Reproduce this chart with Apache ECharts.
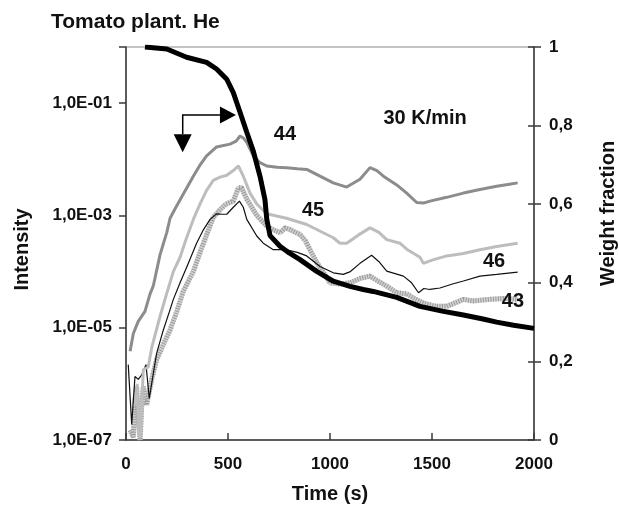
<!DOCTYPE html>
<html>
<head>
<meta charset="utf-8">
<script src="https://cdn.jsdelivr.net/npm/echarts@6/dist/echarts.min.js"></script>
<style>
  html, body { margin: 0; padding: 0; background: #fff; }
  #chart { width: 619px; height: 506px; }
</style>
</head>
<body>
<div id="chart"></div>
<script>
// Tick labels
const timeTicks = [0, 500, 1000, 1500, 2000];
const intensityTickValues = [1e-7, 1e-5, 1e-3, 1e-1];
const intensityTickLabels = ['1,0E-07', '1,0E-05', '1,0E-03', '1,0E-01'];
const weightTickLabels = ['0', '0,2', '0,4', '0,6', '0,8', '1'];

// m/z 44
const time44 = [20, 36, 60, 93, 118, 134, 167, 200, 216, 240, 281, 330, 360, 395, 444, 510, 540, 559, 575, 592, 624, 657, 690, 740, 787, 840, 886, 951, 1016, 1082, 1147, 1196, 1230, 1262, 1327, 1376, 1425, 1458, 1490, 1572, 1654, 1735, 1817, 1880, 1920];
const int44 = [3.8e-6, 7.9e-6, 1.3e-5, 1.95e-5, 4.0e-5, 5.6e-5, 2.0e-4, 5.0e-4, 8.9e-4, 1.3e-3, 2.4e-3, 5.0e-3, 7.6e-3, 1.15e-2, 1.66e-2, 1.86e-2, 2.1e-2, 2.6e-2, 2.4e-2, 2.0e-2, 1.15e-2, 8.7e-3, 7.6e-3, 7.2e-3, 7.1e-3, 6.8e-3, 6.6e-3, 5.0e-3, 3.8e-3, 3.2e-3, 4.4e-3, 7.1e-3, 6.3e-3, 5.0e-3, 3.5e-3, 2.5e-3, 1.7e-3, 1.66e-3, 1.8e-3, 2.1e-3, 2.5e-3, 2.9e-3, 3.3e-3, 3.6e-3, 3.8e-3];

// m/z 45
const time45 = [45, 55, 62, 70, 85, 109, 126, 167, 199, 232, 265, 297, 330, 363, 395, 428, 461, 494, 526, 551, 575, 608, 641, 690, 787, 886, 1016, 1049, 1082, 1140, 1196, 1240, 1278, 1343, 1376, 1441, 1458, 1500, 1572, 1654, 1735, 1817, 1920];
const int45 = [4.0e-7, 1.0e-6, 1.26e-7, 1.12e-7, 1.8e-6, 2.0e-6, 4.4e-6, 1.6e-5, 4.0e-5, 1.0e-4, 1.8e-4, 4.0e-4, 8.5e-4, 1.6e-3, 2.8e-3, 4.2e-3, 4.8e-3, 5.2e-3, 6.3e-3, 7.6e-3, 5.0e-3, 2.5e-3, 1.6e-3, 1.07e-3, 8.9e-4, 6.9e-4, 4.0e-4, 3.2e-4, 3.2e-4, 4.5e-4, 6.0e-4, 5.0e-4, 3.7e-4, 3.2e-4, 2.5e-4, 1.8e-4, 1.4e-4, 1.6e-4, 1.9e-4, 2.1e-4, 2.45e-4, 2.8e-4, 3.2e-4];

// m/z 46
const time46 = [11, 28, 44, 60, 77, 98, 114, 126, 150, 183, 216, 232, 265, 300, 346, 380, 412, 444, 470, 494, 526, 556, 575, 592, 641, 673, 722, 787, 840, 886, 951, 1016, 1065, 1100, 1147, 1204, 1240, 1278, 1360, 1400, 1434, 1460, 1490, 1539, 1600, 1654, 1735, 1817, 1920];
const int46 = [2.2e-6, 1.9e-7, 1.35e-6, 1.2e-6, 1.45e-6, 2.2e-6, 5.5e-7, 1.02e-6, 3.5e-6, 9.1e-6, 2.1e-5, 3.2e-5, 6.3e-5, 1.26e-4, 3.2e-4, 5.6e-4, 8.5e-4, 1.07e-3, 1.05e-3, 1.05e-3, 1.4e-3, 1.8e-3, 1.4e-3, 8.5e-4, 4.3e-4, 3.2e-4, 2.45e-4, 2.45e-4, 2.2e-4, 1.9e-4, 1.23e-4, 9.5e-5, 8.9e-5, 1.0e-4, 1.4e-4, 1.95e-4, 1.5e-4, 1.02e-4, 8.3e-5, 6.3e-5, 4.2e-5, 5.0e-5, 4.8e-5, 5.1e-5, 6.0e-5, 6.8e-5, 8.3e-5, 8.9e-5, 9.8e-5];

// m/z 43
const time43 = [20, 36, 44, 52, 60, 69, 77, 85, 101, 126, 150, 183, 216, 250, 281, 330, 363, 395, 428, 461, 490, 526, 551, 567, 592, 641, 690, 720, 755, 780, 804, 830, 853, 880, 902, 935, 965, 1000, 1050, 1098, 1150, 1196, 1240, 1278, 1327, 1376, 1420, 1458, 1520, 1572, 1654, 1700, 1784, 1850, 1920];
const int43 = [1.5e-7, 1.12e-7, 5.0e-7, 8.9e-7, 2.5e-7, 1.0e-7, 4.0e-7, 8.9e-7, 4.2e-7, 1.2e-6, 2.7e-6, 5.0e-6, 9.1e-6, 2.0e-5, 4.5e-5, 1.0e-4, 2.2e-4, 4.5e-4, 9.3e-4, 1.26e-3, 1.6e-3, 1.8e-3, 3.1e-3, 3.1e-3, 1.95e-3, 1.0e-3, 6.5e-4, 5.6e-4, 4.9e-4, 6.0e-4, 5.6e-4, 5.0e-4, 4.6e-4, 3.5e-4, 2.45e-4, 1.45e-4, 1.0e-4, 6.3e-5, 6.0e-5, 6.3e-5, 7.6e-5, 8.3e-5, 6.6e-5, 5.5e-5, 4.2e-5, 4.0e-5, 3.2e-5, 2.75e-5, 2.4e-5, 2.4e-5, 3.2e-5, 3.0e-5, 3.2e-5, 3.3e-5, 3.2e-5];

// Weight fraction (TG curve)
const timeTG = [93, 200, 297, 395, 444, 494, 526, 559, 592, 624, 657, 681, 690, 706, 755, 800, 853, 935, 1016, 1098, 1163, 1212, 1327, 1441, 1550, 1654, 1750, 1817, 1900, 2000];
const weightTG = [1.0, 0.995, 0.974, 0.961, 0.944, 0.918, 0.884, 0.834, 0.783, 0.735, 0.671, 0.612, 0.562, 0.52, 0.493, 0.476, 0.459, 0.429, 0.404, 0.391, 0.383, 0.378, 0.363, 0.340, 0.328, 0.318, 0.308, 0.300, 0.292, 0.284];

// Curve annotations: [text, time, value, axis]
const curveLabels = [
  ['44', 779, 2.8e-2, 0],
  ['45', 917, 1.23e-3, 0],
  ['46', 1804, 1.5e-4, 0],
  ['43', 1897, 2.9e-5, 0],
  ['30 K/min', 1466, 5.4e-2, 0]
];
// Axis-reading arrows (in time / weight-fraction coordinates)
const arrowCorner = [278, 0.827];
const arrowRightTip = [539, 0.827];
const arrowDownTip = [278, 0.732];

const FONT = '"Liberation Sans", Arial, Helvetica, sans-serif';
const pairs = (xs, ys) => xs.map((x, i) => [x, ys[i]]);

const chart = echarts.init(document.getElementById('chart'), null, { renderer: 'canvas' });

const axisLineStyle = { color: '#3a3a3a', width: 1.5 };
const tickLabelStyle = { color: '#111', fontSize: 17, fontWeight: 'bold', fontFamily: FONT };
const nameStyle = { color: '#111', fontSize: 20, fontWeight: 'bold', fontFamily: FONT };

const option = {
  animation: false,
  backgroundColor: '#fff',
  title: {
    text: 'Tomato plant. He',
    left: 51, top: 12, padding: 0,
    textStyle: { color: '#111', fontSize: 21, fontWeight: 'bold', fontFamily: FONT }
  },
  grid: {
    left: 126, right: 85, top: 47, bottom: 66,
    show: true, borderColor: '#8a8a8a', borderWidth: 1, backgroundColor: 'transparent',
    containLabel: false, outerBoundsMode: 'none'
  },
  xAxis: {
    type: 'value', min: 0, max: 2000, interval: 500,
    name: 'Time (s)', nameLocation: 'middle', nameGap: 44,
    nameTextStyle: nameStyle,
    axisLine: { show: true, lineStyle: axisLineStyle },
    axisTick: { show: true, inside: true, length: 7, lineStyle: axisLineStyle },
    axisLabel: {
      ...tickLabelStyle, margin: 16,
      formatter: v => { const k = timeTicks.indexOf(v); return k >= 0 ? String(timeTicks[k]) : ''; }
    },
    splitLine: { show: false }
  },
  yAxis: [
    {
      type: 'log', logBase: 10, min: 1e-7, max: 1, interval: 2,
      position: 'left',
      name: 'Intensity', nameLocation: 'middle', nameGap: 94, nameRotate: 90,
      nameTextStyle: { ...nameStyle, padding: [0, 12, 0, 0] },
      axisLine: { show: true, lineStyle: axisLineStyle },
      axisTick: { show: true, inside: false, length: 7, lineStyle: axisLineStyle },
      axisLabel: {
        ...tickLabelStyle, margin: 14,
        formatter: v => {
          const k = intensityTickValues.findIndex(x => Math.abs(Math.log10(x) - Math.log10(v)) < 0.01);
          return k >= 0 ? intensityTickLabels[k] : '';
        }
      },
      splitLine: { show: false }
    },
    {
      type: 'value', min: 0, max: 1, interval: 0.2,
      position: 'right',
      name: 'Weight fraction', nameLocation: 'middle', nameGap: 64, nameRotate: 90,
      nameTextStyle: { ...nameStyle, padding: [0, 0, 0, 60] },
      axisLine: { show: true, lineStyle: axisLineStyle },
      axisTick: { show: true, inside: false, length: 7, lineStyle: axisLineStyle },
      axisLabel: {
        ...tickLabelStyle, margin: 15,
        formatter: v => weightTickLabels[Math.round(v / 0.2)] || ''
      },
      splitLine: { show: false }
    },
    {
      // inner half of the crossing ticks on the weight-fraction axis
      type: 'value', min: 0, max: 1, interval: 0.2,
      position: 'right',
      axisLine: { show: false },
      axisTick: { show: true, inside: true, length: 6, lineStyle: axisLineStyle },
      axisLabel: { show: false },
      splitLine: { show: false }
    }
  ],
  series: [
    {
      name: '43', type: 'line', yAxisIndex: 0, data: pairs(time43, int43),
      showSymbol: false, symbol: 'none', z: 2,
      lineStyle: { color: '#d2d2d2', width: 5 }
    },
    {
      name: '43 hatch', type: 'line', yAxisIndex: 0, data: pairs(time43, int43),
      showSymbol: false, symbol: 'none', z: 3,
      lineStyle: { color: '#9a9a9a', width: 5, type: [1, 1.5] }
    },
    {
      name: '46', type: 'line', yAxisIndex: 0, data: pairs(time46, int46),
      showSymbol: false, symbol: 'none', z: 4,
      lineStyle: { color: '#111', width: 1.2 }
    },
    {
      name: '45', type: 'line', yAxisIndex: 0, data: pairs(time45, int45),
      showSymbol: false, symbol: 'none', z: 5,
      lineStyle: { color: '#bdbdbd', width: 3 }
    },
    {
      name: '44', type: 'line', yAxisIndex: 0, data: pairs(time44, int44),
      showSymbol: false, symbol: 'none', z: 6,
      lineStyle: { color: '#8c8c8c', width: 3 }
    },
    {
      name: 'Weight fraction', type: 'line', yAxisIndex: 1, data: pairs(timeTG, weightTG),
      showSymbol: false, symbol: 'none', z: 7,
      lineStyle: { color: '#000', width: 5 }
    }
  ]
};

chart.setOption(option);

// Annotations positioned through the chart's own coordinate system
const toPx = (axis, pt) => chart.convertToPixel({ xAxisIndex: 0, yAxisIndex: axis }, pt);
const graphics = curveLabels.map(([text, t, v, axis]) => {
  const p = toPx(axis, [t, v]);
  return {
    type: 'text', x: p[0], y: p[1], z: 100,
    style: {
      text, fill: '#111', font: 'bold 20px ' + FONT,
      align: 'center', verticalAlign: 'middle',
      textAlign: 'center', textVerticalAlign: 'middle'
    }
  };
});
const c = toPx(1, arrowCorner);
const r = toPx(1, arrowRightTip);
const d = toPx(1, arrowDownTip);
graphics.push(
  { type: 'polyline', z: 100, shape: { points: [[r[0] - 16, c[1]], [c[0], c[1]], [c[0], d[1] - 18]] },
    style: { stroke: '#000', lineWidth: 1.5, fill: null } },
  { type: 'polygon', z: 100, shape: { points: [[r[0], r[1]], [r[0] - 16, r[1] - 8.5], [r[0] - 16, r[1] + 8.5]] },
    style: { fill: '#000' } },
  { type: 'polygon', z: 100, shape: { points: [[d[0], d[1]], [d[0] - 9, d[1] - 18], [d[0] + 9, d[1] - 18]] },
    style: { fill: '#000' } }
);
chart.setOption({ graphic: { elements: graphics } });
</script>
</body>
</html>
